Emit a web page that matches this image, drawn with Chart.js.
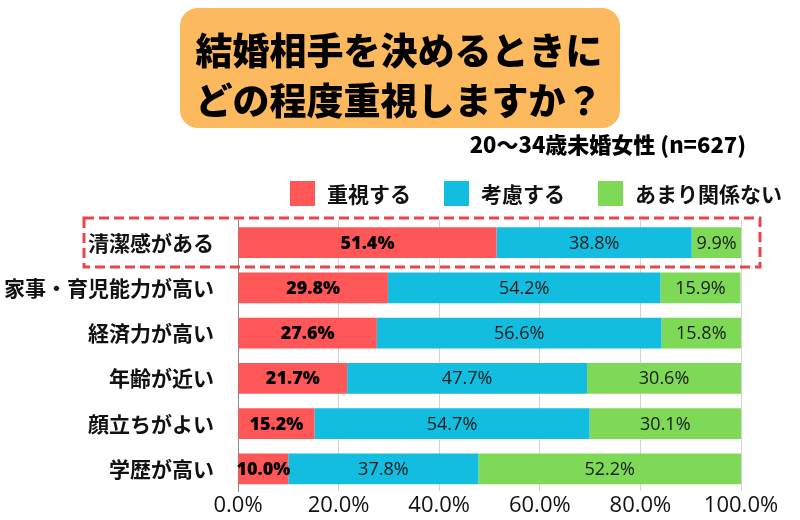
<!DOCTYPE html>
<html>
<head>
<meta charset="utf-8">
<script src="https://cdn.jsdelivr.net/npm/chart.js@4/dist/chart.umd.min.js"></script>
<style>
  html, body { margin: 0; padding: 0; background: #ffffff; }
  #wrap { width: 800px; height: 520px; }
</style>
</head>
<body>
<div id="wrap"><canvas id="c" width="800" height="520"></canvas></div>
<script>
const titleLines = ['結婚相手を決めるときに', 'どの程度重視しますか？'];
const subtitle = '20〜34歳未婚女性 (n=627)';
const categories = ['清潔感がある', '家事・育児能力が高い', '経済力が高い', '年齢が近い', '顔立ちがよい', '学歴が高い'];
const seriesNames = ['重視する', '考慮する', 'あまり関係ない'];
const important = [51.4, 29.8, 27.6, 21.7, 15.2, 10.0];
const consider = [38.8, 54.2, 56.6, 47.7, 54.7, 37.8];
const notMuch = [9.9, 15.9, 15.8, 30.6, 30.1, 52.2];
const xTicks = [0, 20, 40, 60, 80, 100];

const colors = ['#FF5757', '#12BDE0', '#7ED957'];
const JP = '"Noto Sans CJK JP", "Noto Sans", sans-serif';
const NUM = '"Open Sans", "Noto Sans CJK JP", sans-serif';

const decorPlugin = {
  id: 'decor',
  beforeDraw(chart) {
    const ctx = chart.ctx;
    ctx.save();
    ctx.fillStyle = '#ffffff';
    ctx.fillRect(0, 0, chart.width, chart.height);
    // title box
    ctx.fillStyle = '#FDB95D';
    ctx.beginPath();
    ctx.roundRect(180, 8, 440, 120, 18);
    ctx.fill();
    ctx.fillStyle = '#000000';
    ctx.font = '900 37px ' + JP;
    ctx.textAlign = 'center';
    ctx.textBaseline = 'middle';
    ctx.fillText(titleLines[0], 399, 51);
    ctx.fillText(titleLines[1], 399, 101);
    // subtitle
    ctx.font = '900 22px ' + JP;
    ctx.textAlign = 'right';
    ctx.fillText(subtitle, 746, 145);
    ctx.restore();
  },
  afterDraw(chart) {
    const ctx = chart.ctx;
    ctx.save();
    // legend
    ctx.font = '700 21px ' + JP;
    ctx.textBaseline = 'middle';
    ctx.textAlign = 'left';
    const box = 25, gapText = 12, gapItem = 33;
    const ds = chart.data.datasets;
    let total = 0;
    ds.forEach((d, i) => {
      total += box + gapText + ctx.measureText(d.label).width + (i < ds.length - 1 ? gapItem : 0);
    });
    let x = 782 - total;
    ds.forEach((d) => {
      ctx.fillStyle = d.backgroundColor;
      ctx.fillRect(x, 181, box, box);
      ctx.fillStyle = '#111111';
      ctx.fillText(d.label, x + box + gapText, 194);
      x += box + gapText + ctx.measureText(d.label).width + gapItem;
    });
    // highlight dashed rectangle
    ctx.strokeStyle = '#E8474A';
    ctx.lineWidth = 3;
    ctx.setLineDash([10, 5]);
    ctx.strokeRect(84, 218, 676, 49);
    ctx.restore();
  },
  afterDatasetsDraw(chart) {
    const ctx = chart.ctx;
    ctx.save();
    ctx.textAlign = 'center';
    ctx.textBaseline = 'middle';
    chart.data.datasets.forEach((d, di) => {
      const meta = chart.getDatasetMeta(di);
      ctx.font = (di === 0 ? '800 18px ' : '500 18px ') + NUM;
      ctx.fillStyle = di === 0 ? '#000000' : '#1a1a1a';
      meta.data.forEach((bar, i) => {
        const v = d.data[i];
        const cx = (bar.x + bar.base) / 2;
        ctx.fillText(v.toFixed(1) + '%', cx, bar.y + 1);
      });
    });
    ctx.restore();
  }
};

new Chart(document.getElementById('c'), {
  type: 'bar',
  data: {
    labels: categories,
    datasets: [
      { label: seriesNames[0], data: important, backgroundColor: colors[0] },
      { label: seriesNames[1], data: consider, backgroundColor: colors[1] },
      { label: seriesNames[2], data: notMuch, backgroundColor: colors[2] }
    ]
  },
  options: {
    indexAxis: 'y',
    responsive: false,
    animation: false,
    devicePixelRatio: 1,
    layout: { padding: { top: 220, right: 59, bottom: 0, left: 0 } },
    datasets: { bar: { barPercentage: 0.68, categoryPercentage: 1.0, borderWidth: 0 } },
    plugins: {
      legend: { display: false },
      title: { display: false },
      tooltip: { enabled: false }
    },
    scales: {
      x: {
        stacked: true,
        min: 0,
        max: 100,
        afterBuildTicks(scale) { scale.ticks = xTicks.map(v => ({ value: v })); },
        ticks: {
          font: { family: NUM, size: 22, weight: '500' },
          color: '#111111',
          padding: 1,
          callback: (v) => Number(v).toFixed(1) + '%'
        },
        grid: { color: '#d4d4d4', lineWidth: 1, drawTicks: false },
        border: { display: false }
      },
      y: {
        stacked: true,
        afterFit(scale) { scale.width = 238; },
        ticks: {
          font: { family: JP, size: 21, weight: '700' },
          color: '#111111',
          padding: 16
        },
        grid: { display: false },
        border: { display: true, color: '#8a8a8a', width: 1 }
      }
    }
  },
  plugins: [decorPlugin]
});
</script>
</body>
</html>
